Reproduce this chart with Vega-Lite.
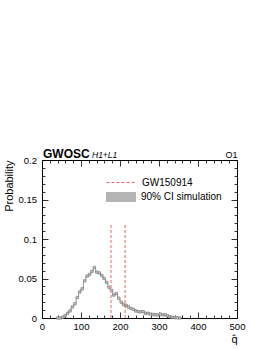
{
  "$schema": "https://vega.github.io/schema/vega-lite/v6.json",
  "width": 195,
  "height": 158,
  "autosize": "none",
  "padding": {"left": 42, "top": 160, "right": 33, "bottom": 31},
  "datasets": {
    "hist": [
      {"q": 40.625, "p": 0, "lo": 0, "hi": 0.0005, "band": "90% CI simulation"},
      {"q": 46.875, "p": 0, "lo": 0, "hi": 0.0005, "band": "90% CI simulation"},
      {"q": 53.125, "p": 0.001, "lo": 0, "hi": 0.002, "band": "90% CI simulation"},
      {"q": 59.375, "p": 0.003, "lo": 0.002, "hi": 0.004, "band": "90% CI simulation"},
      {"q": 65.625, "p": 0.006, "lo": 0.005, "hi": 0.007, "band": "90% CI simulation"},
      {"q": 71.875, "p": 0.009, "lo": 0.008, "hi": 0.01, "band": "90% CI simulation"},
      {"q": 78.125, "p": 0.014, "lo": 0.013, "hi": 0.015, "band": "90% CI simulation"},
      {"q": 84.375, "p": 0.018, "lo": 0.017, "hi": 0.019, "band": "90% CI simulation"},
      {"q": 90.625, "p": 0.026, "lo": 0.025, "hi": 0.027, "band": "90% CI simulation"},
      {"q": 96.875, "p": 0.033, "lo": 0.032, "hi": 0.034, "band": "90% CI simulation"},
      {"q": 103.125, "p": 0.037, "lo": 0.036, "hi": 0.038, "band": "90% CI simulation"},
      {"q": 109.375, "p": 0.047, "lo": 0.046, "hi": 0.048, "band": "90% CI simulation"},
      {"q": 115.625, "p": 0.053, "lo": 0.052, "hi": 0.054, "band": "90% CI simulation"},
      {"q": 121.875, "p": 0.055, "lo": 0.054, "hi": 0.056, "band": "90% CI simulation"},
      {"q": 128.125, "p": 0.059, "lo": 0.058, "hi": 0.06, "band": "90% CI simulation"},
      {"q": 134.375, "p": 0.064, "lo": 0.063, "hi": 0.065, "band": "90% CI simulation"},
      {"q": 140.625, "p": 0.058, "lo": 0.057, "hi": 0.059, "band": "90% CI simulation"},
      {"q": 146.875, "p": 0.057, "lo": 0.056, "hi": 0.058, "band": "90% CI simulation"},
      {"q": 153.125, "p": 0.054, "lo": 0.053, "hi": 0.055, "band": "90% CI simulation"},
      {"q": 159.375, "p": 0.05, "lo": 0.049, "hi": 0.051, "band": "90% CI simulation"},
      {"q": 165.625, "p": 0.045, "lo": 0.044, "hi": 0.046, "band": "90% CI simulation"},
      {"q": 171.875, "p": 0.039, "lo": 0.038, "hi": 0.04, "band": "90% CI simulation"},
      {"q": 178.125, "p": 0.035, "lo": 0.034, "hi": 0.036, "band": "90% CI simulation"},
      {"q": 184.375, "p": 0.029, "lo": 0.028, "hi": 0.03, "band": "90% CI simulation"},
      {"q": 190.625, "p": 0.031, "lo": 0.03, "hi": 0.032, "band": "90% CI simulation"},
      {"q": 196.875, "p": 0.025, "lo": 0.024, "hi": 0.026, "band": "90% CI simulation"},
      {"q": 203.125, "p": 0.02, "lo": 0.019, "hi": 0.021, "band": "90% CI simulation"},
      {"q": 209.375, "p": 0.017, "lo": 0.016, "hi": 0.018, "band": "90% CI simulation"},
      {"q": 215.625, "p": 0.016, "lo": 0.015, "hi": 0.017, "band": "90% CI simulation"},
      {"q": 221.875, "p": 0.014, "lo": 0.013, "hi": 0.015, "band": "90% CI simulation"},
      {"q": 228.125, "p": 0.012, "lo": 0.011, "hi": 0.013, "band": "90% CI simulation"},
      {"q": 234.375, "p": 0.011, "lo": 0.01, "hi": 0.012, "band": "90% CI simulation"},
      {"q": 240.625, "p": 0.009, "lo": 0.008, "hi": 0.01, "band": "90% CI simulation"},
      {"q": 246.875, "p": 0.008, "lo": 0.007, "hi": 0.009, "band": "90% CI simulation"},
      {"q": 253.125, "p": 0.008, "lo": 0.007, "hi": 0.009, "band": "90% CI simulation"},
      {"q": 259.375, "p": 0.008, "lo": 0.007, "hi": 0.009, "band": "90% CI simulation"},
      {"q": 265.625, "p": 0.006, "lo": 0.005, "hi": 0.007, "band": "90% CI simulation"},
      {"q": 271.875, "p": 0.006, "lo": 0.005, "hi": 0.007, "band": "90% CI simulation"},
      {"q": 278.125, "p": 0.005, "lo": 0.004, "hi": 0.006, "band": "90% CI simulation"},
      {"q": 284.375, "p": 0.0045, "lo": 0.0035, "hi": 0.0055, "band": "90% CI simulation"},
      {"q": 290.625, "p": 0.004, "lo": 0.003, "hi": 0.005, "band": "90% CI simulation"},
      {"q": 296.875, "p": 0.004, "lo": 0.003, "hi": 0.005, "band": "90% CI simulation"},
      {"q": 303.125, "p": 0.005, "lo": 0.004, "hi": 0.006, "band": "90% CI simulation"},
      {"q": 309.375, "p": 0.004, "lo": 0.003, "hi": 0.005, "band": "90% CI simulation"},
      {"q": 315.625, "p": 0.004, "lo": 0.003, "hi": 0.005, "band": "90% CI simulation"},
      {"q": 321.875, "p": 0.003, "lo": 0.002, "hi": 0.004, "band": "90% CI simulation"},
      {"q": 328.125, "p": 0.0015, "lo": 0.0005, "hi": 0.0025, "band": "90% CI simulation"},
      {"q": 334.375, "p": 0.001, "lo": 0, "hi": 0.002, "band": "90% CI simulation"},
      {"q": 340.625, "p": 0.0005, "lo": 0, "hi": 0.0015, "band": "90% CI simulation"},
      {"q": 346.875, "p": 0.0003, "lo": 0, "hi": 0.001, "band": "90% CI simulation"},
      {"q": 353.125, "p": 0, "lo": 0, "hi": 0.0005, "band": "90% CI simulation"}
    ]
  },
  "layer": [
    {
      "data": {"name": "hist"},
      "mark": {"type": "area", "interpolate": "step", "opacity": 1},
      "encoding": {
        "x": {"field": "q", "type": "quantitative",
          "scale": {"domain": [0, 500], "nice": false, "zero": false},
          "axis": {"orient": "bottom", "values": [0, 100, 200, 300, 400, 500], "tickSize": -6, "labelPadding": 9, "labelFlush": false, "labelOverlap": false,
            "title": "q̂", "titleAnchor": "end", "titleFontSize": 11, "titleFontWeight": "normal", "titlePadding": 3}},
        "y": {"field": "lo", "type": "quantitative",
          "scale": {"domain": [0, 0.2], "nice": false},
          "axis": {"orient": "left", "values": [0, 0.05, 0.1, 0.15, 0.2], "format": "~g", "tickSize": -6, "labelPadding": 11.5, "labelOverlap": false,
            "title": "Probability", "titleAnchor": "end", "titleFontSize": 11, "titleFontWeight": "normal", "titlePadding": 4}},
        "y2": {"field": "hi"},
        "fill": {"field": "band", "type": "nominal", "scale": {"range": ["#b4b4b4"]},
          "legend": {"title": null, "orient": "none", "legendX": 64, "legendY": 22, "padding": 0, "symbolType": "M-1,-0.33H1V0.33H-1Z", "symbolSize": 900, "symbolStrokeWidth": 0, "symbolOpacity": 1, "labelFontSize": 10, "labelOffset": 5, "labelFont": "Liberation Sans", "labelColor": "black"}}
      }
    },
    {
      "data": {"name": "hist"},
      "mark": {"type": "line", "interpolate": "step", "color": "#8c8c8c", "strokeWidth": 0.9},
      "encoding": {
        "x": {"field": "q", "type": "quantitative",
          "axis": {"orient": "bottom", "values": [20, 40, 60, 80, 120, 140, 160, 180, 220, 240, 260, 280, 320, 340, 360, 380, 420, 440, 460, 480], "tickSize": -3, "labels": false, "title": null}},
        "y": {"field": "p", "type": "quantitative",
          "axis": {"orient": "left", "values": [0.01, 0.02, 0.03, 0.04, 0.06, 0.07, 0.08, 0.09, 0.11, 0.12, 0.13, 0.14, 0.16, 0.17, 0.18, 0.19], "tickSize": -3, "labels": false, "title": null}}
      }
    },
    {
      "data": {"name": "hist"},
      "mark": {"type": "point", "shape": "square", "size": 6, "filled": true, "fill": "#c4c4c4", "stroke": "#777777", "strokeWidth": 0.6, "opacity": 1},
      "encoding": {
        "x": {"field": "q", "type": "quantitative",
          "axis": {"orient": "top", "values": [0, 100, 200, 300, 400, 500], "tickSize": -6, "labels": false,
            "title": "GWOSC", "titleX": 0.5, "titleY": -3, "titleAlign": "left", "titleBaseline": "alphabetic", "titleFontSize": 12, "titleFontWeight": "bold"}},
        "y": {"field": "p", "type": "quantitative",
          "axis": {"orient": "right", "values": [0, 0.05, 0.1, 0.15, 0.2], "tickSize": -6, "labels": false, "title": null}}
      }
    },
    {
      "data": {"values": [{"q": 213, "bot": 0, "top": 0.12, "label": "GW150914"}]},
      "mark": {"type": "rule", "stroke": "#e06060", "strokeWidth": 1},
      "encoding": {
        "x": {"field": "q", "type": "quantitative",
          "axis": {"orient": "top", "values": [20, 40, 60, 80, 120, 140, 160, 180, 220, 240, 260, 280, 320, 340, 360, 380, 420, 440, 460, 480], "tickSize": -3, "labels": false,
            "title": "H1+L1", "titleX": 49.5, "titleY": -3, "titleAlign": "left", "titleBaseline": "alphabetic", "titleFontSize": 8.5, "titleFontStyle": "italic", "titleFontWeight": "normal"}},
        "y": {"field": "bot", "type": "quantitative",
          "axis": {"orient": "right", "values": [0.01, 0.02, 0.03, 0.04, 0.06, 0.07, 0.08, 0.09, 0.11, 0.12, 0.13, 0.14, 0.16, 0.17, 0.18, 0.19], "tickSize": -3, "labels": false, "title": null}},
        "y2": {"field": "top"},
        "strokeDash": {"field": "label", "type": "nominal", "scale": {"range": [[3, 2]]},
          "legend": {"title": null, "orient": "none", "legendX": 64, "legendY": 7, "padding": 0, "symbolType": "stroke", "symbolSize": 900, "symbolStrokeColor": "#e06060", "symbolStrokeWidth": 1, "symbolDash": [3, 2], "labelFontSize": 10, "labelOffset": 5, "labelFont": "Liberation Sans", "labelColor": "black"}}
      }
    },
    {
      "data": {"values": [{"q": 177, "bot": 0, "top": 0.12}]},
      "mark": {"type": "rule", "stroke": "#f4a0a0", "strokeWidth": 1.6, "strokeDash": [3, 2]},
      "encoding": {
        "x": {"field": "q", "type": "quantitative",
          "axis": {"orient": "top", "ticks": false, "labels": false,
            "title": "O1", "titleX": 195, "titleY": -3, "titleAlign": "right", "titleBaseline": "alphabetic", "titleFontSize": 9, "titleFontWeight": "normal"}},
        "y": {"field": "bot", "type": "quantitative", "axis": null},
        "y2": {"field": "top"}
      }
    }
  ],
  "resolve": {"axis": {"x": "independent", "y": "independent"}},
  "config": {
    "font": "Liberation Sans",
    "axis": {"domain": false, "grid": false, "tickColor": "black", "tickWidth": 0.8, "labelColor": "black", "titleColor": "black", "labelFont": "Liberation Sans", "titleFont": "Liberation Sans", "labelFontSize": 9.5},
    "view": {"stroke": "black", "strokeWidth": 1}
  }
}
